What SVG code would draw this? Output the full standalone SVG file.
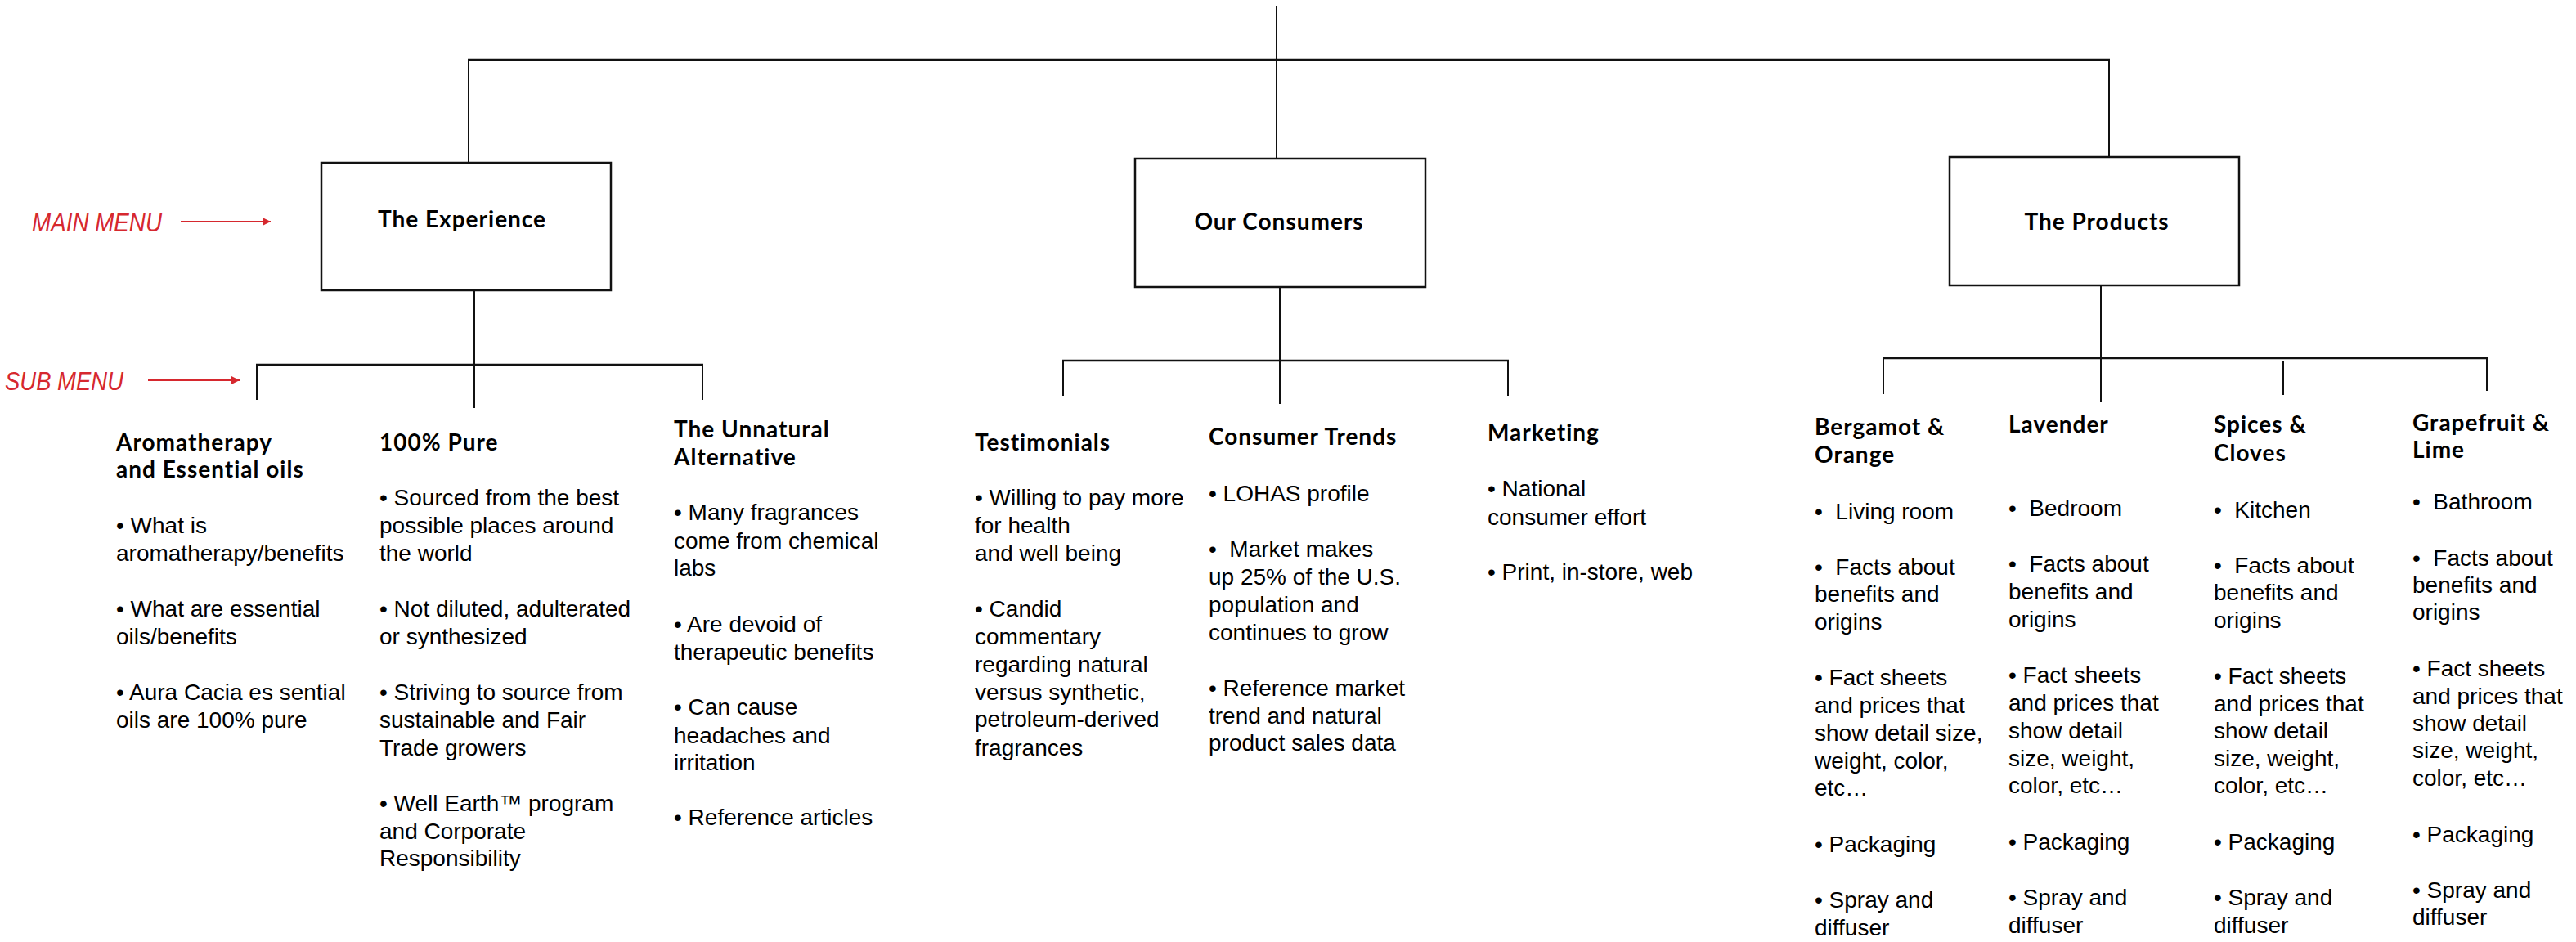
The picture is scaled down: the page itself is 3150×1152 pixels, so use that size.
<svg xmlns="http://www.w3.org/2000/svg" width="3150" height="1152" viewBox="0 0 3150 1152">
<style>
.bg{fill:#fff}
.box{fill:#fff;stroke:#111;stroke-width:2.5}
.ln{stroke:#111;stroke-width:2;fill:none}
.hl{stroke:#111;stroke-width:2.5;fill:none}
.main{font-family:Lato,"Liberation Sans",sans-serif;font-weight:700;font-size:28px;letter-spacing:1px;fill:#000;text-anchor:middle}
.hd{font-family:Lato,"Liberation Sans",sans-serif;font-weight:700;font-size:28px;letter-spacing:1px;fill:#000}
.tx{font-family:"Liberation Sans",Arial,sans-serif;font-size:28px;fill:#000;white-space:pre}
.note{font-family:"Liberation Sans",Arial,sans-serif;font-style:italic;font-size:32px;fill:#d6282e}
.arr{stroke:#d6282e;stroke-width:2;fill:none}
</style>
<defs>
<marker id="ah" viewBox="0 0 10 10" refX="10" refY="5" markerWidth="14" markerHeight="10" markerUnits="userSpaceOnUse" orient="auto"><path d="M0,0 L10,5 L0,10 z" fill="#d6282e"/></marker>
</defs>
<rect class="bg" width="3150" height="1152"/>
<g id="connectors">
<line class="ln" x1="1561" y1="7" x2="1561" y2="194"/>
<line class="hl" x1="572" y1="73" x2="2580" y2="73"/>
<line class="ln" x1="573" y1="73" x2="573" y2="199"/>
<line class="ln" x1="2579" y1="73" x2="2579" y2="192"/>
<line class="ln" x1="580" y1="355" x2="580" y2="499"/>
<line class="hl" x1="313" y1="446" x2="860" y2="446"/>
<line class="ln" x1="314" y1="446" x2="314" y2="489"/>
<line class="ln" x1="859" y1="446" x2="859" y2="489"/>
<line class="ln" x1="1565" y1="351" x2="1565" y2="494"/>
<line class="hl" x1="1299" y1="441" x2="1845" y2="441"/>
<line class="ln" x1="1300" y1="441" x2="1300" y2="484"/>
<line class="ln" x1="1844" y1="441" x2="1844" y2="484"/>
<line class="ln" x1="2569" y1="349" x2="2569" y2="492"/>
<line class="hl" x1="2302" y1="438" x2="3042" y2="438"/>
<line class="ln" x1="2303" y1="438" x2="2303" y2="482"/>
<line class="ln" x1="2792" y1="442" x2="2792" y2="483"/>
<line class="ln" x1="3041" y1="436" x2="3041" y2="478"/>
<line class="arr" x1="221" y1="271" x2="331" y2="271" marker-end="url(#ah)"/>
<line class="arr" x1="181" y1="465" x2="293" y2="465" marker-end="url(#ah)"/>
</g>
<g id="label-main-menu"><text class="note" x="39" y="283" textLength="159" lengthAdjust="spacingAndGlyphs">MAIN  MENU</text></g>
<g id="label-sub-menu"><text class="note" x="6" y="477" textLength="145" lengthAdjust="spacingAndGlyphs">SUB  MENU</text></g>
<g id="node-experience"><rect class="box" x="393" y="199" width="354" height="156"/><text class="main" x="565" y="278">The Experience</text></g>
<g id="node-consumers"><rect class="box" x="1388" y="194" width="355" height="157"/><text class="main" x="1564" y="281">Our Consumers</text></g>
<g id="node-products"><rect class="box" x="2384" y="192" width="354" height="157"/><text class="main" x="2564" y="281">The Products</text></g>

<g id="node-aromatherapy">
<text class="hd"><tspan x="142" y="551">Aromatherapy</tspan><tspan x="142" y="584">and Essential oils</tspan></text>
<text class="tx"><tspan x="142" y="652">• What is</tspan><tspan x="142" y="686">aromatherapy/benefits</tspan><tspan x="142" y="754">• What are essential</tspan><tspan x="142" y="788">oils/benefits</tspan><tspan x="142" y="856">• Aura Cacia es sential</tspan><tspan x="142" y="890">oils are 100% pure</tspan></text>
</g>
<g id="node-pure">
<text class="hd"><tspan x="464" y="551">100% Pure</tspan></text>
<text class="tx"><tspan x="464" y="618">• Sourced from the best</tspan><tspan x="464" y="652">possible places around</tspan><tspan x="464" y="686">the world</tspan><tspan x="464" y="754">• Not diluted, adulterated</tspan><tspan x="464" y="788">or synthesized</tspan><tspan x="464" y="856">• Striving to source from</tspan><tspan x="464" y="890">sustainable and Fair</tspan><tspan x="464" y="924">Trade growers</tspan><tspan x="464" y="992">• Well Earth™ program</tspan><tspan x="464" y="1026">and Corporate</tspan><tspan x="464" y="1059">Responsibility</tspan></text>
</g>
<g id="node-unnatural">
<text class="hd"><tspan x="824" y="535">The Unnatural</tspan><tspan x="824" y="569">Alternative</tspan></text>
<text class="tx"><tspan x="824" y="636">• Many fragrances</tspan><tspan x="824" y="671">come from chemical</tspan><tspan x="824" y="704">labs</tspan><tspan x="824" y="773">• Are devoid of</tspan><tspan x="824" y="807">therapeutic benefits</tspan><tspan x="824" y="874">• Can cause</tspan><tspan x="824" y="909">headaches and</tspan><tspan x="824" y="942">irritation</tspan><tspan x="824" y="1009">• Reference articles</tspan></text>
</g>
<g id="node-testimonials">
<text class="hd"><tspan x="1192" y="551">Testimonials</tspan></text>
<text class="tx"><tspan x="1192" y="618">• Willing to pay more</tspan><tspan x="1192" y="652">for health</tspan><tspan x="1192" y="686">and well being</tspan><tspan x="1192" y="754">• Candid</tspan><tspan x="1192" y="788">commentary</tspan><tspan x="1192" y="822">regarding natural</tspan><tspan x="1192" y="856">versus synthetic,</tspan><tspan x="1192" y="889">petroleum-derived</tspan><tspan x="1192" y="924">fragrances</tspan></text>
</g>
<g id="node-trends">
<text class="hd"><tspan x="1478" y="544">Consumer Trends</tspan></text>
<text class="tx"><tspan x="1478" y="613">• LOHAS profile</tspan><tspan x="1478" y="681">•  Market makes</tspan><tspan x="1478" y="715">up 25% of the U.S.</tspan><tspan x="1478" y="749">population and</tspan><tspan x="1478" y="783">continues to grow</tspan><tspan x="1478" y="851">• Reference market</tspan><tspan x="1478" y="885">trend and natural</tspan><tspan x="1478" y="918">product sales data</tspan></text>
</g>
<g id="node-marketing">
<text class="hd"><tspan x="1819" y="539">Marketing</tspan></text>
<text class="tx"><tspan x="1819" y="607">• National</tspan><tspan x="1819" y="642">consumer effort</tspan><tspan x="1819" y="709">• Print, in-store, web</tspan></text>
</g>
<g id="node-bergamot">
<text class="hd"><tspan x="2219" y="532">Bergamot &amp;</tspan><tspan x="2219" y="566">Orange</tspan></text>
<text class="tx"><tspan x="2219" y="635">•  Living room</tspan><tspan x="2219" y="703">•  Facts about</tspan><tspan x="2219" y="736">benefits and</tspan><tspan x="2219" y="770">origins</tspan><tspan x="2219" y="838">• Fact sheets</tspan><tspan x="2219" y="872">and prices that</tspan><tspan x="2219" y="906">show detail size,</tspan><tspan x="2219" y="940">weight, color,</tspan><tspan x="2219" y="973">etc…</tspan><tspan x="2219" y="1042">• Packaging</tspan><tspan x="2219" y="1110">• Spray and</tspan><tspan x="2219" y="1144">diffuser</tspan></text>
</g>
<g id="node-lavender">
<text class="hd"><tspan x="2456" y="529">Lavender</tspan></text>
<text class="tx"><tspan x="2456" y="631">•  Bedroom</tspan><tspan x="2456" y="699">•  Facts about</tspan><tspan x="2456" y="733">benefits and</tspan><tspan x="2456" y="767">origins</tspan><tspan x="2456" y="835">• Fact sheets</tspan><tspan x="2456" y="869">and prices that</tspan><tspan x="2456" y="903">show detail</tspan><tspan x="2456" y="937">size, weight,</tspan><tspan x="2456" y="970">color, etc…</tspan><tspan x="2456" y="1039">• Packaging</tspan><tspan x="2456" y="1107">• Spray and</tspan><tspan x="2456" y="1141">diffuser</tspan></text>
</g>
<g id="node-spices">
<text class="hd"><tspan x="2707" y="529">Spices &amp;</tspan><tspan x="2707" y="564">Cloves</tspan></text>
<text class="tx"><tspan x="2707" y="633">•  Kitchen</tspan><tspan x="2707" y="701">•  Facts about</tspan><tspan x="2707" y="734">benefits and</tspan><tspan x="2707" y="768">origins</tspan><tspan x="2707" y="836">• Fact sheets</tspan><tspan x="2707" y="870">and prices that</tspan><tspan x="2707" y="903">show detail</tspan><tspan x="2707" y="937">size, weight,</tspan><tspan x="2707" y="970">color, etc…</tspan><tspan x="2707" y="1039">• Packaging</tspan><tspan x="2707" y="1107">• Spray and</tspan><tspan x="2707" y="1141">diffuser</tspan></text>
</g>
<g id="node-grapefruit">
<text class="hd"><tspan x="2950" y="527">Grapefruit &amp;</tspan><tspan x="2950" y="560">Lime</tspan></text>
<text class="tx"><tspan x="2950" y="623">•  Bathroom</tspan><tspan x="2950" y="692">•  Facts about</tspan><tspan x="2950" y="725">benefits and</tspan><tspan x="2950" y="758">origins</tspan><tspan x="2950" y="827">• Fact sheets</tspan><tspan x="2950" y="861">and prices that</tspan><tspan x="2950" y="894">show detail</tspan><tspan x="2950" y="927">size, weight,</tspan><tspan x="2950" y="961">color, etc…</tspan><tspan x="2950" y="1030">• Packaging</tspan><tspan x="2950" y="1098">• Spray and</tspan><tspan x="2950" y="1131">diffuser</tspan></text>
</g>
</svg>
